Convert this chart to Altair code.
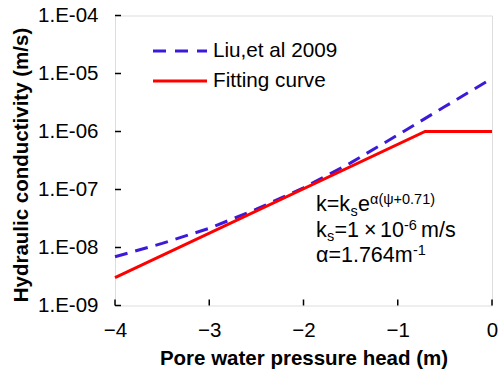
import altair as alt
import pandas as pd

# ---- data ----
psi_liu = [-4, -3.5, -3, -2.5, -2, -1.5, -1, -0.5, 0]
k_liu = [6.92e-9, 1.175e-8, 2.14e-8, 4.57e-8, 1.07e-7, 2.88e-7, 8.71e-7, 2.69e-6, 8.22e-6]
psi_fit = [-4, -0.71, 0]
k_fit = [3.02e-9, 1e-6, 1e-6]
x_ticks = [-4, -3, -2, -1, 0]
y_ticks = [1e-9, 1e-8, 1e-7, 1e-6, 1e-5, 1e-4]

FONT = "Liberation Sans"
W, H = 377, 290
L, T = 115, 15.5
BLUE = "#3c1ad8"
RED = "#ff0000"
S, SS = 21.5, 14.5   # annotation main / script sizes

xs = alt.Scale(domain=[-4, 0], nice=False, zero=False)
ys = alt.Scale(type="log", domain=[1e-9, 1e-4], nice=False)

liu = pd.DataFrame({"psi": psi_liu, "k": k_liu})
fit = pd.DataFrame({"psi": psi_fit, "k": k_fit})

x_axis = alt.Axis(values=x_ticks, format="d", ticks=False, domain=False, grid=False,
                  labelFlush=False,
                  labelFont=FONT, labelFontSize=20.5, labelColor="black", labelPadding=15,
                  title="Pore water pressure head (m)", titleFont=FONT, titleFontSize=20.5,
                  titleFontWeight="bold", titleColor="black",
                  titleX=W / 2, titleY=53, titleBaseline="middle")
y_axis = alt.Axis(values=y_ticks, labelExpr="'1.E-0' + toString(-round(log(datum.value)/LN10))",
                  ticks=False, domain=False, grid=False, labelFlush=False,
                  labelFont=FONT, labelFontSize=20.5, labelColor="black", labelPadding=17,
                  title="Hydraulic conductivity (m/s)", titleFont=FONT, titleFontSize=20.5,
                  titleFontWeight="bold", titleColor="black",
                  titleX=21 - L, titleY=164.5 - T, titleBaseline="middle", titleAngle=-90)

liu_line = alt.Chart(liu).mark_line(color=BLUE, strokeWidth=3, strokeDash=[13, 8]).encode(
    x=alt.X("psi:Q", scale=xs, axis=x_axis),
    y=alt.Y("k:Q", scale=ys, axis=y_axis),
)
fit_line = alt.Chart(fit).mark_line(color=RED, strokeWidth=3).encode(
    x=alt.X("psi:Q", scale=xs),
    y=alt.Y("k:Q", scale=ys),
)

xt = alt.Chart(pd.DataFrame({"psi": x_ticks})).mark_rule(color="black", strokeWidth=1.5).encode(
    x=alt.X("psi:Q", scale=xs), y=alt.value(H - 6), y2=alt.value(H))
yt = alt.Chart(pd.DataFrame({"k": y_ticks})).mark_rule(color="black", strokeWidth=1.5).encode(
    y=alt.Y("k:Q", scale=ys), x=alt.value(0), x2=alt.value(6))

one = pd.DataFrame({"a": [0]})


def txt(s, x, y, size, baseline="alphabetic"):
    return alt.Chart(one).mark_text(align="left", baseline=baseline, fontSize=size,
                                    font=FONT, color="black").encode(
        x=alt.value(x - L), y=alt.value(y - T), text=alt.value(s))


def seg(x1, x2, y, color, dash=None):
    kw = dict(color=color, strokeWidth=3)
    if dash:
        kw["strokeDash"] = dash
    return alt.Chart(one).mark_rule(**kw).encode(
        x=alt.value(x1 - L), x2=alt.value(x2 - L), y=alt.value(y - T))


legend = [
    seg(153, 207, 51, BLUE, [13, 9]),
    seg(153, 207, 81, RED),
    txt("Liu,et al 2009", 213, 51, 20.7, "middle"),
    txt("Fitting curve", 213, 81, 20.7, "middle"),
]

ann = [
    # line 1: k = k_s e^{α(ψ+0.71)}
    txt("k=k", 316, 211, S),
    txt("s", 350.5, 215.5, SS),
    txt("e", 358, 211, S),
    txt("α(ψ+0.71)", 370, 204, SS),
    # line 2: k_s = 1 × 10^-6 m/s
    txt("k", 316, 236.5, S),
    txt("s", 327, 241, SS),
    txt("=1", 334.5, 236.5, S),
    txt("×", 364, 236.5, S),
    txt("10", 380, 236.5, S),
    txt("-6", 404, 229.5, SS),
    txt("m/s", 421, 236.5, S),
    # line 3: α = 1.764 m^-1
    txt("α=1.764m", 316, 261.5, S),
    txt("-1", 413, 254.5, SS),
]

chart = alt.layer(liu_line, fit_line, xt, yt, *legend, *ann).properties(
    width=W, height=H,
    autosize=alt.AutoSizeParams(type="none"),
    padding={"left": L, "top": T, "right": 498 - L - W, "bottom": 374 - T - H},
).configure_view(stroke="black", strokeWidth=1.5).configure(background="white")

chart.save("out.html", embed_options={"renderer": "svg", "actions": False})
